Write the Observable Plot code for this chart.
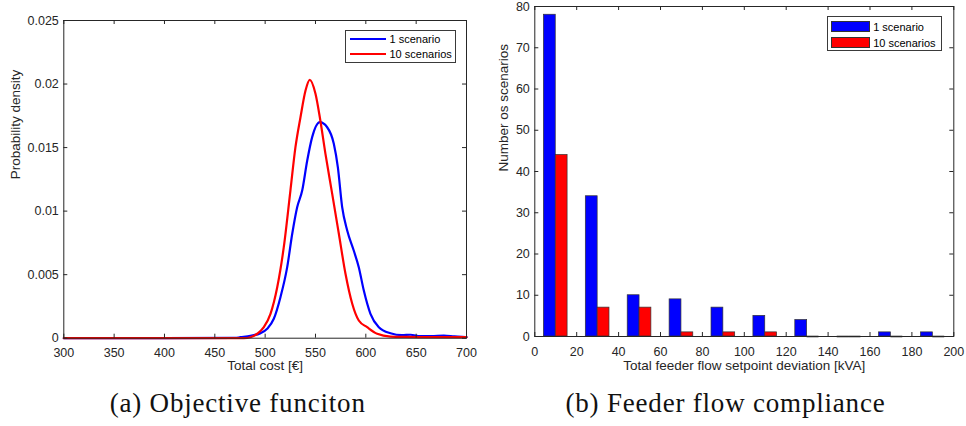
<!DOCTYPE html>
<html>
<head>
<meta charset="utf-8">
<script src="https://cdn.jsdelivr.net/npm/d3@7"></script>
<script src="https://cdn.jsdelivr.net/npm/@observablehq/plot@0.6"></script>
<style>
  html, body { margin: 0; padding: 0; background: #fff; }
  #wrap { position: relative; width: 966px; height: 426px; overflow: hidden; background: #fff; }
  .panel { position: absolute; top: 0; }
  .legend { position: absolute; background: #fff; border: 1px solid #3a3a3a; font-family: "Liberation Sans", Arial, sans-serif; font-size: 11px; color: #000; box-sizing: border-box; }
  .legend .key { position: absolute; }
  .legend .lbl { position: absolute; white-space: nowrap; }
  .caption { position: absolute; top: 390px; font-family: "Liberation Serif", "Times New Roman", serif; font-size: 27px; letter-spacing: 0.8px; line-height: 27px; color: #111; white-space: nowrap; transform: translateX(-50%); }
</style>
</head>
<body>
<div id="wrap"></div>
<script>
// ---------- Data ----------
const seriesNames = ["1 scenario", "10 scenarios"];
const seriesColors = ["#0000ff", "#ff0000"];

// (a) Objective function: kernel density of total cost
const costBlue = [300, 400, 470, 475.5, 485.4, 495.4, 502, 508.6, 515.2, 521.9, 526.9, 531.8, 536.8, 541.8, 546.7, 554.3, 561.6, 568.2, 572.2, 576.5, 581.5, 588, 593, 598, 604.6, 612.9, 624.5, 636, 644.4, 654.3, 665, 677.5, 688, 699, 700];
const densBlue = [0, 0, 0.00002, 0.00008, 0.00019, 0.00039, 0.00074, 0.00153, 0.00323, 0.00559, 0.00822, 0.01031, 0.01162, 0.01398, 0.01582, 0.0170, 0.0166, 0.0153, 0.01346, 0.01031, 0.00848, 0.0069, 0.00559, 0.00375, 0.00192, 0.00087, 0.00039, 0.00024, 0.00027, 0.00016, 0.00016, 0.00021, 0.00014, 0.00008, 0.00008];

const costRed = [300, 400, 470, 478.8, 485.4, 492.1, 498.7, 505.3, 512, 518.5, 525.1, 530.1, 535.1, 540.1, 544.3, 550, 554.3, 559.9, 566.6, 573.2, 579.8, 586.5, 593, 601.3, 611.3, 624.5, 640, 664.2, 700];
const densRed = [0, 0, 0, 0, 0.00008, 0.00035, 0.00087, 0.00192, 0.00401, 0.00716, 0.01162, 0.01503, 0.01739, 0.01949, 0.02033, 0.01923, 0.01739, 0.01451, 0.01136, 0.00822, 0.00507, 0.00271, 0.00139, 0.00087, 0.00035, 0.00013, 0.0001, 0.00008, 0.00008];

const costTicks = [300, 350, 400, 450, 500, 550, 600, 650, 700];
const densTicks = [0, 0.005, 0.01, 0.015, 0.02, 0.025];

// (b) Feeder flow compliance: histogram of deviation
const binCenters = [10, 30, 50, 70, 90, 110, 130, 150, 170, 190];
const countBlue = [78, 34, 10, 9, 7, 5, 4, 0, 1, 1];
const countRed = [44, 7, 7, 1, 1, 1, 0, 0, 0, 0];

const devTicks = [0, 20, 40, 60, 80, 100, 120, 140, 160, 180, 200];
const countTicks = [0, 10, 20, 30, 40, 50, 60, 70, 80];

const captions = ["(a) Objective funciton", "(b) Feeder flow compliance"];
const xLabels = ["Total cost [€]", "Total feeder flow setpoint deviation [kVA]"];
const yLabels = ["Probability density", "Number os scenarios"];

// ---------- Build ----------
const axisColor = "#262626";
const font = "'Liberation Sans', Arial, Helvetica, sans-serif";
const tickFont = 12.5, labelFont = 13.5;
const wrap = document.getElementById("wrap");

function boxTicks(xt, yt, innerW, innerH, len) {
  return [
    Plot.ruleX(xt, {x: d => d, insetTop: innerH - len, stroke: axisColor, strokeWidth: 1}),
    Plot.ruleX(xt, {x: d => d, insetBottom: innerH - len, stroke: axisColor, strokeWidth: 1}),
    Plot.ruleY(yt, {y: d => d, insetRight: innerW - len, stroke: axisColor, strokeWidth: 1}),
    Plot.ruleY(yt, {y: d => d, insetLeft: innerW - len, stroke: axisColor, strokeWidth: 1})
  ];
}

// Left panel
{
  const W = 480, H = 380, mL = 63.3, mR = 14, mT = 20, mB = 42.3;
  const lineBlue = costBlue.map((c, i) => ({cost: c, dens: densBlue[i]}));
  const lineRed = costRed.map((c, i) => ({cost: c, dens: densRed[i]}));
  const p = Plot.plot({
    width: W, height: H, marginLeft: mL, marginRight: mR, marginTop: mT, marginBottom: mB,
    x: {domain: [300, 700]},
    y: {domain: [0, 0.025]},
    style: {fontFamily: font, fontSize: tickFont + "px", color: axisColor, background: "transparent", overflow: "visible"},
    marks: [
      Plot.line(lineBlue, {x: "cost", y: "dens", stroke: seriesColors[0], strokeWidth: 2.2, curve: "monotone-x"}),
      Plot.line(lineRed, {x: "cost", y: "dens", stroke: seriesColors[1], strokeWidth: 2.2, curve: "monotone-x"}),
      Plot.frame({stroke: axisColor, strokeWidth: 1}),
      ...boxTicks(costTicks, densTicks, W - mL - mR, H - mT - mB, 4),
      Plot.axisX(costTicks, {tickSize: 0, tickPadding: 9.6, tickFormat: d => String(d), label: null, fill: axisColor, fontSize: tickFont}),
      Plot.axisY(densTicks, {tickSize: 0, tickPadding: 5, tickFormat: d => String(d), label: null, fill: axisColor, fontSize: tickFont}),
      Plot.text([xLabels[0]], {frameAnchor: "bottom", dy: 31.6, text: d => d, fill: axisColor, fontSize: labelFont}),
      Plot.text([yLabels[0]], {frameAnchor: "left", dx: -48.3, text: d => d, rotate: -90, fill: axisColor, fontSize: labelFont})
    ]
  });
  p.classList.add("panel");
  p.style.left = "0px";
  wrap.appendChild(p);
}

// Right panel
{
  const W = 486, H = 380, mL = 54.3, mR = 12.7, mT = 6, mB = 44;
  const bw = 5.65;
  const barsBlue = binCenters.map((c, i) => ({c, n: countBlue[i]}));
  const barsRed = binCenters.map((c, i) => ({c, n: countRed[i]}));
  const p = Plot.plot({
    width: W, height: H, marginLeft: mL, marginRight: mR, marginTop: mT, marginBottom: mB,
    x: {domain: [0, 200]},
    y: {domain: [0, 80]},
    style: {fontFamily: font, fontSize: tickFont + "px", color: axisColor, background: "transparent", overflow: "visible"},
    marks: [
      Plot.rectY(barsBlue.filter(d => d.n > 0), {x1: d => d.c - bw, x2: d => d.c, y: "n", fill: seriesColors[0], stroke: "#333", strokeWidth: 0.7}),
      Plot.rectY(barsRed.filter(d => d.n > 0), {x1: d => d.c, x2: d => d.c + bw, y: "n", fill: seriesColors[1], stroke: "#333", strokeWidth: 0.7}),
      Plot.ruleY(barsBlue.filter(d => d.n === 0), {x1: d => d.c - bw, x2: d => d.c, y: 0, stroke: "#333", strokeWidth: 1.6}),
      Plot.ruleY(barsRed.filter(d => d.n === 0), {x1: d => d.c, x2: d => d.c + bw, y: 0, stroke: "#333", strokeWidth: 1.6}),
      Plot.frame({stroke: axisColor, strokeWidth: 1}),
      ...boxTicks(devTicks, countTicks, W - mL - mR, H - mT - mB, 4),
      Plot.axisX(devTicks, {tickSize: 0, tickPadding: 10.3, tickFormat: d => String(d), label: null, fill: axisColor, fontSize: tickFont}),
      Plot.axisY(countTicks, {tickSize: 0, tickPadding: 5, tickFormat: d => String(d), label: null, fill: axisColor, fontSize: tickFont}),
      Plot.text([xLabels[1]], {frameAnchor: "bottom", dy: 33, text: d => d, fill: axisColor, fontSize: labelFont}),
      Plot.text([yLabels[1]], {frameAnchor: "left", dx: -31, text: d => d, rotate: -90, fill: axisColor, fontSize: labelFont})
    ]
  });
  p.classList.add("panel");
  p.style.left = "480px";
  wrap.appendChild(p);
}

// Legends
function legend(left, top, w, h, kind, rows, keyX, keyW, textX) {
  const box = document.createElement("div");
  box.className = "legend";
  Object.assign(box.style, {left: left + "px", top: top + "px", width: w + "px", height: h + "px"});
  rows.forEach((rowTop, i) => {
    const key = document.createElement("div");
    key.className = "key";
    if (kind === "line") {
      Object.assign(key.style, {left: keyX + "px", top: (rowTop - 1.1) + "px", width: keyW + "px", height: "2.2px", background: seriesColors[i]});
    } else {
      Object.assign(key.style, {left: keyX + "px", top: (rowTop - 5.5) + "px", width: keyW + "px", height: "11px", background: seriesColors[i], border: "0.7px solid #333", boxSizing: "border-box"});
    }
    box.appendChild(key);
    const lbl = document.createElement("div");
    lbl.className = "lbl";
    lbl.textContent = seriesNames[i];
    Object.assign(lbl.style, {left: textX + "px", top: (rowTop - 7) + "px", lineHeight: "14px"});
    box.appendChild(lbl);
  });
  wrap.appendChild(box);
}
legend(345, 30, 111, 33, "line", [8.3, 23.3], 3.5, 36.5, 43.5);
legend(826.7, 16, 115.6, 35, "rect", [9.5, 25.8], 3.5, 38.5, 45.5);

// Captions
[[237.7, 0], [725.5, 1]].forEach(([cx, i]) => {
  const c = document.createElement("div");
  c.className = "caption";
  c.style.left = cx + "px";
  c.textContent = captions[i];
  wrap.appendChild(c);
});
</script>
</body>
</html>
